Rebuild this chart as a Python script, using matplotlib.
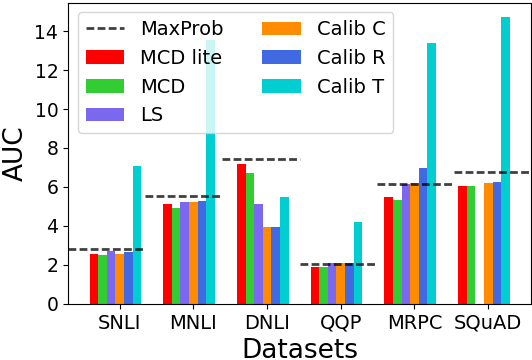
import numpy as np
import matplotlib.pyplot as plt

datasets = ['SNLI', 'MNLI', 'DNLI', 'QQP', 'MRPC', 'SQuAD']
maxprob = [2.80, 5.52, 7.42, 2.04, 6.15, 6.77]

methods = ['MCD lite', 'MCD', 'LS', 'Calib C', 'Calib R', 'Calib T']
colors = ['red', 'limegreen', 'mediumslateblue', 'darkorange', 'royalblue', 'darkturquoise']
mcd_lite = [2.56, 5.13, 7.18, 1.90, 5.49, 6.05]
mcd = [2.51, 4.92, 6.72, 1.90, 5.33, 6.05]
ls = [2.72, 5.23, 5.13, 2.09, 6.15, np.nan]
calib_c = [2.56, 5.23, 3.95, 2.09, 6.20, 6.20]
calib_r = [2.67, 5.28, 3.95, 2.09, 6.97, 6.26]
calib_t = [7.08, 13.54, 5.49, 4.20, 13.38, 14.72]
values = [mcd_lite, mcd, ls, calib_c, calib_r, calib_t]

fig = plt.figure(figsize=(5.32, 3.6), dpi=100)
ax = fig.add_axes([0.128, 0.156, 0.87, 0.8365])

x = np.arange(len(datasets))
w = 0.117
n = len(datasets)
# MaxProb baseline: one dashed segment per dataset slot
for i, v in enumerate(maxprob):
    ax.axhline(v, xmin=i / n, xmax=(i + 1) / n, color='k', alpha=0.75, lw=2,
               dashes=(2.8, 1.2), label='MaxProb' if i == 0 else None)

for k, (name, vals, c) in enumerate(zip(methods, values, colors)):
    ax.bar(x + (k - 3) * w, vals, w, color=c, label=name)

ax.set_xlim(-0.70, 5.58)
ax.set_xticks(x)
ax.set_xticklabels(datasets, fontsize=14)
ax.tick_params(axis='y', labelsize=13.5)
ax.set_ylabel('AUC', fontsize=19)
ax.set_xlabel('Datasets', fontsize=19)
ax.legend(ncol=2, loc='upper left', fontsize=14)

plt.savefig('out.png', dpi=100)
